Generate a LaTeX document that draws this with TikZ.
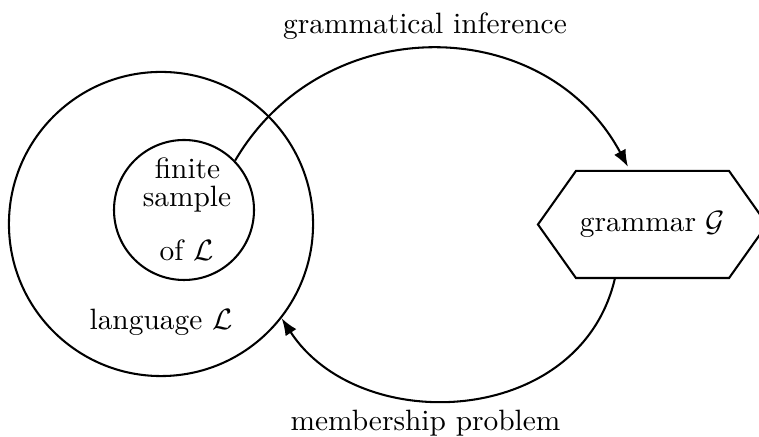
\documentclass[tikz,border=0pt]{standalone}
\usetikzlibrary{arrows.meta}
\begin{document}
\begin{tikzpicture}[x=0.34pt,y=0.34pt,
  line width=0.7pt,
  circ/.style={draw,circle,inner sep=0pt},
  lbl/.style={anchor=base,inner sep=0pt},
  arr/.style={-{Latex[length=5.8pt,width=4.4pt]}}]
\clip (0,0) rectangle (759,437);
% shapes
\node[circ,minimum size=103.4pt] (L) at (161,213) {};
\node[circ,minimum size=47.6pt] (fs) at (184,227) {};
\node[inner sep=0pt,minimum width=77.2pt,minimum height=35.7pt] (g) at (652.5,212.5) {grammar $\mathcal{G}$};
\draw (g.west) -- ([shift={(38,0)}]g.north west) -- ([shift={(-38,0)}]g.north east)
  -- (g.east) -- ([shift={(-38,0)}]g.south east) -- ([shift={(38,0)}]g.south west) -- cycle;
% texts
\node[lbl] (t1) at (187.5,258) {finite};
\node[lbl] (t2) at (187,230) {sample};
\node[lbl] (t3) at (186.5,176) {of $\mathcal{L}$};
\node[lbl] (t4) at (161,107) {language $\mathcal{L}$};
\node[lbl] (gi) at (425,403) {grammatical inference};
\node[lbl] (mp) at (425.5,6) {membership problem};
% connectors
\draw[arr] (fs.44) .. controls +(59.7:175) and +(118.2:176) .. ([shift={(-24.5,4)}]g.north);
\draw[arr] ([shift={(-37.5,0)}]g.south) .. controls +(257:154) and +(303:142) .. (L.-38);
\end{tikzpicture}
\end{document}
